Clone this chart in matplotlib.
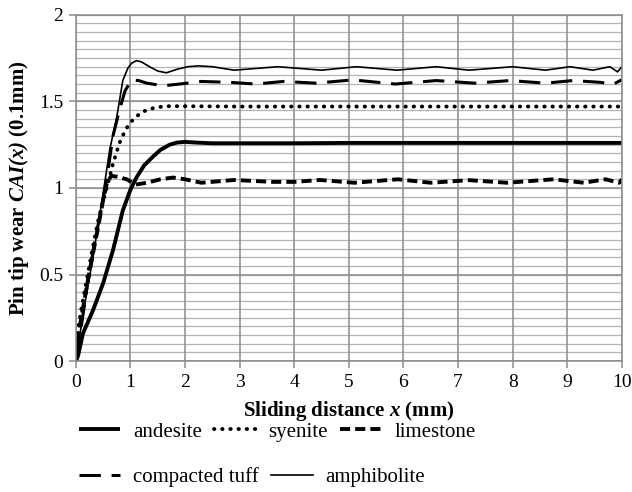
import matplotlib
matplotlib.use("Agg")
import matplotlib.pyplot as plt
from matplotlib.lines import Line2D

plt.rcParams['font.family'] = ['Liberation Serif', 'DejaVu Serif']
plt.rcParams['mathtext.fontset'] = 'custom'
plt.rcParams['mathtext.rm'] = 'Liberation Serif'
plt.rcParams['mathtext.it'] = 'Liberation Serif:italic'
plt.rcParams['mathtext.bf'] = 'Liberation Serif:bold'
plt.rcParams['mathtext.bfit'] = 'Liberation Serif:italic:bold'

## données
x_andesite = [0, 0.04, 0.13, 0.31, 0.5, 0.68, 0.86, 1.0, 1.11, 1.25, 1.41, 1.55, 1.72, 1.85, 2.0, 2.2, 2.5, 3, 4, 5, 6, 7, 8, 9, 10]
y_andesite = [0, 0.03, 0.16, 0.29, 0.45, 0.64, 0.87, 0.99, 1.06, 1.13, 1.18, 1.22, 1.25, 1.262, 1.266, 1.262, 1.258, 1.258, 1.258, 1.26, 1.26, 1.26, 1.26, 1.26, 1.26]

x_syenite = [0, 0.05, 0.1, 0.2, 0.3, 0.4, 0.47, 0.59, 0.68, 0.8, 0.9, 0.99, 1.1, 1.2, 1.3, 1.41, 1.55, 1.7, 2.0, 3, 4, 5, 6, 7, 8, 9, 10]
y_syenite = [0.02, 0.2, 0.3, 0.47, 0.64, 0.8, 0.89, 1.03, 1.14, 1.26, 1.33, 1.375, 1.41, 1.435, 1.45, 1.46, 1.468, 1.472, 1.472, 1.47, 1.47, 1.47, 1.47, 1.47, 1.47, 1.47, 1.47]

x_limestone = [0, 0.05, 0.1, 0.2, 0.3, 0.4, 0.5, 0.57, 0.65, 0.75, 0.93, 1.1, 1.3, 1.55, 1.78, 2.0, 2.3, 2.9, 3.6, 4.0, 4.47, 5.1, 5.9, 6.5, 7.2, 7.9, 8.75, 9.3, 9.7, 9.95, 10]
y_limestone = [0.02, 0.15, 0.25, 0.43, 0.6, 0.76, 0.93, 1.03, 1.07, 1.065, 1.05, 1.02, 1.03, 1.05, 1.06, 1.05, 1.03, 1.046, 1.035, 1.035, 1.046, 1.03, 1.05, 1.03, 1.045, 1.03, 1.05, 1.03, 1.05, 1.03, 1.05]

x_tuff = [0, 0.05, 0.1, 0.2, 0.35, 0.47, 0.58, 0.68, 0.8, 0.9, 1.02, 1.15, 1.3, 1.6, 1.9, 2.3, 2.8, 3.3, 3.8, 4.4, 5.07, 5.85, 6.6, 7.3, 7.95, 8.6, 9.1, 9.6, 9.85, 10]
y_tuff = [0.02, 0.12, 0.2, 0.42, 0.7, 0.88, 1.08, 1.3, 1.45, 1.56, 1.625, 1.62, 1.605, 1.59, 1.6, 1.615, 1.61, 1.6, 1.615, 1.605, 1.624, 1.6, 1.62, 1.605, 1.62, 1.605, 1.62, 1.61, 1.6, 1.625]

x_amphibolite = [0, 0.05, 0.1, 0.2, 0.3, 0.44, 0.5, 0.62, 0.75, 0.86, 0.95, 1.02, 1.11, 1.2, 1.35, 1.5, 1.66, 1.85, 2.05, 2.25, 2.5, 2.9, 3.3, 3.7, 4.1, 4.5, 5.14, 5.88, 6.6, 7.2, 8.0, 8.6, 9.05, 9.47, 9.78, 9.92, 10]
y_amphibolite = [0.02, 0.12, 0.2, 0.4, 0.57, 0.85, 0.97, 1.22, 1.41, 1.62, 1.69, 1.72, 1.735, 1.728, 1.70, 1.675, 1.665, 1.685, 1.70, 1.705, 1.70, 1.68, 1.69, 1.70, 1.69, 1.68, 1.70, 1.68, 1.70, 1.68, 1.70, 1.68, 1.70, 1.68, 1.70, 1.67, 1.70]

x_ticks = [0, 1, 2, 3, 4, 5, 6, 7, 8, 9, 10]
y_ticks = [0, 0.5, 1, 1.5, 2]
y_ticklabels = ['0', '0.5', '1', '1.5', '2']

fig = plt.figure(figsize=(6.32, 4.92), dpi=100)
ax = fig.add_axes([0.120, 0.266, 0.864, 0.704])

# grille façon Excel
for v in [i * 0.05 for i in range(41)]:
    ax.axhline(v, color='#b4b4b4', lw=0.9, zorder=0)
for v in y_ticks:
    ax.axhline(v, color='#8c8c8c', lw=1.1, zorder=0)
for v in x_ticks:
    ax.axvline(v, color='#8c8c8c', lw=1.1, zorder=0)

st_andesite = dict(color='black', lw=2.8, solid_capstyle='butt')
st_syenite = dict(color='black', lw=2.8, linestyle=(0, (0.1, 2.0)), dash_capstyle='round')
st_limestone = dict(color='black', lw=2.8, linestyle=(0, (2.6, 1.3)))
st_tuff = dict(color='black', lw=2.2, linestyle=(0, (7, 3.5)))
st_amphibolite = dict(color='black', lw=1.2)

ax.plot(x_andesite, y_andesite, **st_andesite)
ax.plot(x_syenite, y_syenite, **st_syenite)
ax.plot(x_limestone, y_limestone, **st_limestone)
ax.plot(x_tuff, y_tuff, **st_tuff)
ax.plot(x_amphibolite, y_amphibolite, **st_amphibolite)

ax.set_xlim(0, 10)
ax.set_ylim(0, 2)
ax.set_xticks(x_ticks)
ax.set_yticks(y_ticks)
ax.set_yticklabels(y_ticklabels)
ax.tick_params(labelsize=14, color='#8c8c8c', length=5, width=1.1, pad=4)
for s in ax.spines.values():
    s.set_color('#8c8c8c')
    s.set_linewidth(1.1)

ax.set_xlabel(r'Sliding distance $\mathbfit{x}$ (mm)', fontsize=15, fontweight='bold', labelpad=6)
ax.set_ylabel(r'Pin tip wear $\mathbfit{CAI(x)}$ (0.1mm)', fontsize=15, fontweight='bold', labelpad=6)

# légende sur deux lignes
h1 = [Line2D([], [], **st_andesite), Line2D([], [], **st_syenite), Line2D([], [], **st_limestone)]
h2 = [Line2D([], [], **st_tuff), Line2D([], [], **st_amphibolite)]
fig.legend(h1, ['andesite', 'syenite', 'limestone'], loc='center left',
           bbox_to_anchor=(0.095, 0.122), ncol=3, frameon=False, fontsize=15,
           handlelength=2.0, handletextpad=0.6, columnspacing=0.6)
fig.legend(h2, ['compacted tuff', 'amphibolite'], loc='center left',
           bbox_to_anchor=(0.095, 0.030), ncol=2, frameon=False, fontsize=15,
           handlelength=2.0, handletextpad=0.6, columnspacing=0.6)

fig.savefig('out.png', dpi=100)
